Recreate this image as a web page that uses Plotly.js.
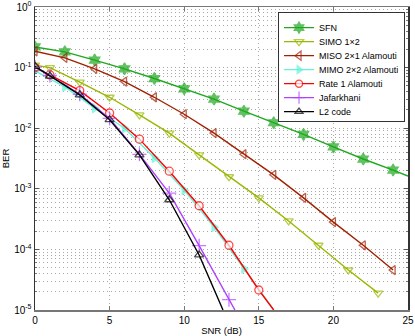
<!DOCTYPE html>
<html>
<head>
<meta charset="utf-8">
<script src="https://cdn.plot.ly/plotly-3.0.1.min.js"></script>
<style>
  html, body { margin: 0; padding: 0; background: #fff; }
  #chart { width: 415px; height: 336px; }
</style>
</head>
<body>
<div id="chart"></div>
<script>
// BER vs SNR curves
// (last point of some curves is where the line leaves the plot, drawn without a marker)
const sfnSnr = [0, 2, 4, 6, 8, 10, 12, 14, 16, 18, 20, 22, 24, 25];
const sfnBer = [0.219, 0.182, 0.133, 0.0955, 0.066, 0.0447, 0.0302, 0.0191, 0.0123, 0.0079, 0.0049, 0.0031, 0.00204, 0.00162];

const simoSnr = [0, 1, 3, 5, 7, 9, 11, 13, 15, 17, 19, 21, 23];
const simoBer = [0.11, 0.1, 0.0575, 0.0324, 0.0166, 0.0083, 0.00363, 0.00158, 0.000708, 0.000295, 0.000117, 4.57e-5, 1.9e-5];

const misoSnr = [0, 2, 4, 6, 8, 10, 12, 14, 16, 18, 20, 22, 24];
const misoBer = [0.186, 0.145, 0.0955, 0.0589, 0.0324, 0.017, 0.0083, 0.00372, 0.0017, 0.000708, 0.000282, 0.000117, 4.57e-5];

const mimoSnr = [0, 2, 4, 6, 8, 10, 12, 14, 16];
const mimoBer = [0.088, 0.048, 0.0214, 0.01, 0.00324, 0.00095, 0.000234, 4.8e-5, 1e-5];

const rate1Snr = [0, 1, 3, 5, 7, 9, 11, 13, 15, 16];
const rate1Ber = [0.1, 0.0759, 0.0417, 0.0178, 0.0066, 0.00195, 0.000525, 0.000117, 2.14e-5, 1e-5];

const jafSnr = [0, 1, 3, 5, 7, 9, 11, 13, 13.4];
const jafBer = [0.102, 0.074, 0.0363, 0.0145, 0.0037, 0.00085, 0.000115, 1.48e-5, 1e-5];

const l2Snr = [0, 1, 3, 5, 7, 9, 11, 12.6];
const l2Ber = [0.105, 0.0724, 0.0355, 0.0138, 0.00363, 0.00066, 8.1e-5, 1e-5];

// y axis ticks
const berTicks = [1e-5, 1e-4, 1e-3, 1e-2, 1e-1, 1];
const berTickText = ['10<sup>-5</sup>', '10<sup>-4</sup>', '10<sup>-3</sup>', '10<sup>-2</sup>', '10<sup>-1</sup>', '10<sup>0</sup>'];

// marker size per point, 0 hides the marker at the clipped end point
function sizes(n, s, hideLast) {
    return Array.from({ length: n }, (_, i) => (hideLast && i === n - 1) ? 0 : s);
}

function curve(name, x, y, color, symbol, opts) {
    opts = opts || {};
    return {
        x: x, y: y, name: name,
        type: 'scatter', mode: 'lines+markers',
        line: { color: color, width: 1.4 },
        marker: {
            symbol: symbol,
            size: sizes(x.length, opts.size || 8, opts.hideLast),
            color: opts.fill || color,
            line: { color: color, width: 1.3 },
        },
    };
}

const traces = [
    curve('SFN', sfnSnr, sfnBer, '#1fa81f', 'hexagram', { size: 9, hideLast: true }),
    curve('SIMO 1\u00d72', simoSnr, simoBer, '#98b800', 'triangle-down-open'),
    curve('MISO 2\u00d71 Alamouti', misoSnr, misoBer, '#a02000', 'triangle-left-open'),
    curve('MIMO 2\u00d72 Alamouti', mimoSnr, mimoBer, '#66f2d8', 'triangle-right', { hideLast: true }),
    curve('Rate 1 Alamouti', rate1Snr, rate1Ber, '#ff0000', 'circle', { fill: '#ffffff', hideLast: true }),
    curve('Jafarkhani', jafSnr, jafBer, '#b040ff', 'cross-thin-open', { size: 10, hideLast: true }),
    curve('L2 code', l2Snr, l2Ber, '#000000', 'triangle-up-open', { hideLast: true }),
];

const gridDot = '#a8a8a8';

const layout = {
    width: 415, height: 336,
    paper_bgcolor: '#ffffff',
    plot_bgcolor: '#ffffff',
    font: { family: 'Liberation Sans, Arial, sans-serif', size: 9, color: '#000' },
    margin: { l: 35, r: 7, t: 7, b: 26 },
    showlegend: true,
    legend: {
        x: 0.992, y: 0.983, xanchor: 'right', yanchor: 'top',
        bgcolor: '#ffffff', bordercolor: '#333', borderwidth: 1,
        font: { size: 9 },
        tracegroupgap: 0,
    },
    xaxis: {
        range: [0, 25], dtick: 5,
        tickfont: { size: 10 },
        title: { text: 'SNR (dB)', font: { size: 9.5 }, standoff: 5 },
        showline: true, linecolor: '#777', linewidth: 1.5, mirror: 'ticks',
        ticks: 'inside', ticklen: 4, tickcolor: '#777',
        showgrid: true, gridcolor: gridDot, griddash: '1px,3px', gridwidth: 1,
        zeroline: false,
    },
    yaxis: {
        type: 'log', range: [-5, 0],
        tickmode: 'array', tickvals: berTicks, ticktext: berTickText,
        tickfont: { size: 10 },
        title: { text: 'BER', font: { size: 9.5 }, standoff: 4 },
        showline: true, linecolor: '#333', linewidth: 1.5, mirror: 'ticks',
        ticks: 'inside', ticklen: 4, tickcolor: '#555',
        showgrid: true, gridcolor: gridDot, griddash: '1px,3px', gridwidth: 1,
        minor: { dtick: 'D1', showgrid: true, gridcolor: gridDot, griddash: '1px,3px', ticks: 'inside', ticklen: 2, tickcolor: '#777' },
        zeroline: false,
    },
};

Plotly.newPlot('chart', traces, layout, { displayModeBar: false, staticPlot: true }).then(function (gd) {
    // tighten legend rows to match the compact MATLAB legend
    const step = 14;
    const rows = gd.querySelectorAll('.legend .traces');
    let y0 = null;
    rows.forEach(function (row, i) {
        const m = /translate\(([-\d.]+),\s*([-\d.]+)\)/.exec(row.getAttribute('transform') || '');
        if (!m) return;
        if (y0 === null) y0 = parseFloat(m[2]);
        row.setAttribute('transform', 'translate(' + m[1] + ',' + (y0 + i * step) + ')');
    });
    const bg = gd.querySelector('.legend .bg');
    if (bg && y0 !== null) {
        bg.setAttribute('height', String(y0 + (rows.length - 1) * step + 9));
    }
});
</script>
</body>
</html>
